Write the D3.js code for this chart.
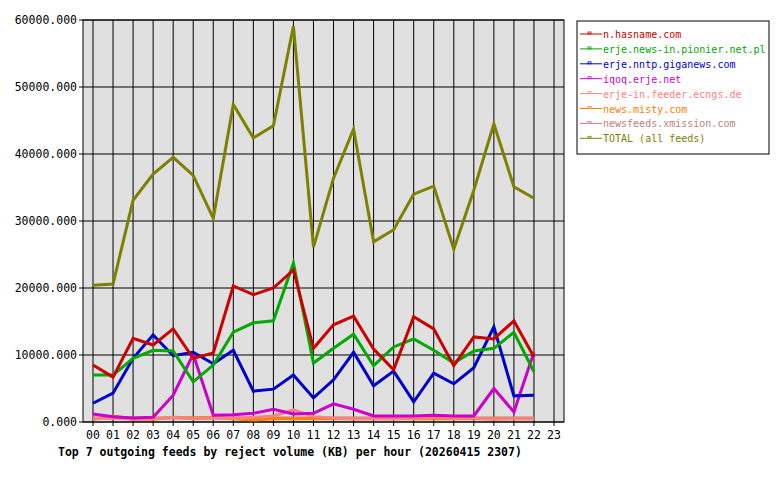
<!DOCTYPE html>
<html><head><script src="https://cdn.jsdelivr.net/npm/d3@7"></script>
<style>body{margin:0;background:#fff}text{font-family:"DejaVu Sans Mono",monospace}</style></head>
<body><svg id="chart" width="780" height="480"></svg>
<script>
const hours = d3.range(0, 24).map(h => String(h).padStart(2, "0"));
const feeds = ["n.hasname.com", "erje.news-in.pionier.net.pl", "erje.nntp.giganews.com", "iqoq.erje.net",
  "erje-in.feeder.ecngs.de", "news.misty.com", "newsfeeds.xmission.com", "TOTAL (all feeds)"];
const colors = ["#cc0000", "#00aa00", "#0000cc", "#cc00cc", "#ff8080", "#ff8000", "#c08080", "#808000"];
const hasname = [8500,6700,12500,11500,13900,9500,10300,20300,19000,20000,22700,11000,14500,15800,10900,7800,15700,13900,8400,12700,12400,15100,9700];
const pionier = [7000,7000,9500,10700,10600,6000,8500,13400,14800,15100,23700,8800,11000,13100,8400,11200,12400,10700,8800,10600,11000,13400,7500];
const giganews = [2800,4300,9500,13000,9900,10400,8700,10700,4600,4900,7000,3600,6300,10400,5400,7600,3000,7300,5700,8100,14200,3900,4000];
const iqoq = [1200,800,600,700,4000,10100,1000,1100,1300,1900,1200,1300,2700,1900,900,900,900,1000,900,900,5000,1500,10400];
const ecngs = [500,600,400,500,700,500,600,600,700,900,1800,800,600,500,500,500,600,700,600,600,400,500,500];
const misty = [400,900,400,400,700,600,700,500,300,500,500,500,500,500,500,500,500,500,500,500,500,500,500];
const xmission = [600,600,600,600,600,600,600,600,600,600,600,600,600,600,600,600,600,600,600,600,600,600,600];
const total = [20400,20600,33100,37000,39500,36800,30400,47400,42400,44200,59100,26100,36400,43700,26900,28700,34000,35200,25800,34600,44500,35100,33400];
const series = [hasname, pionier, giganews, iqoq, ecngs, misty, xmission, total];
const yTicks = [0, 10000, 20000, 30000, 40000, 50000, 60000];

const svg = d3.select("#chart");
const x0 = 83, x1 = 564, yTop = 20, yBot = 422;
svg.append("rect").attr("x", x0).attr("y", yTop).attr("width", x1 - x0).attr("height", yBot - yTop)
  .attr("fill", "#e0e0e0").attr("stroke", "#000");
const x = d3.scalePoint().domain(hours).range([93, 554]);
const y = d3.scaleLinear().domain([0, 60000]).range([yBot, yTop]);

svg.append("g").selectAll("line").data(hours).join("line")
  .attr("x1", d => x(d)).attr("x2", d => x(d)).attr("y1", yTop).attr("y2", yBot + 4).attr("stroke", "#000");
svg.append("g").selectAll("line").data(yTicks).join("line")
  .attr("x1", x0 - 4).attr("x2", x1).attr("y1", d => y(d)).attr("y2", d => y(d)).attr("stroke", "#000");
svg.append("g").selectAll("text").data(yTicks).join("text")
  .attr("x", x0 - 6).attr("y", d => y(d) + 4).attr("text-anchor", "end").attr("font-size", 11.5)
  .text(d => d3.format(".3f")(d));
svg.append("g").selectAll("text").data(hours).join("text")
  .attr("x", d => x(d)).attr("y", yBot + 17).attr("text-anchor", "middle").attr("font-size", 11.5).text(d => d);

const line = d3.line().x((d, i) => x(hours[i])).y(d => y(d));
[6, 5, 4, 3, 2, 1, 0, 7].forEach(k => {
  svg.append("path").attr("d", line(series[k])).attr("fill", "none")
    .attr("stroke", colors[k]).attr("stroke-width", 3);
});

svg.append("text").attr("x", 58).attr("y", 456).attr("font-size", 11.5).attr("font-weight", "bold")
  .text("Top 7 outgoing feeds by reject volume (KB) per hour (20260415 2307)");

const lg = svg.append("g");
lg.append("rect").attr("x", 577).attr("y", 21).attr("width", 192).attr("height", 133)
  .attr("fill", "#fff").attr("stroke", "#000");
feeds.forEach((f, i) => {
  const ly = 34 + i * 14.9;
  lg.append("line").attr("x1", 580).attr("x2", 602).attr("y1", ly).attr("y2", ly).attr("stroke", colors[i]);
  lg.append("rect").attr("x", 588).attr("y", ly - 2).attr("width", 3).attr("height", 2).attr("fill", "none").attr("stroke", colors[i]).attr("stroke-width", 0.8);
  lg.append("text").attr("x", 603).attr("y", ly + 4).attr("font-size", 10).attr("fill", colors[i]).text(f);
});
</script></body></html>
